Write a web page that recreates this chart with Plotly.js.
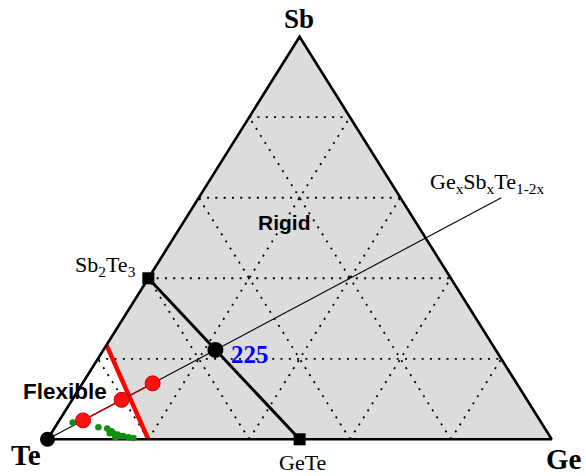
<!DOCTYPE html>
<html><head><meta charset="utf-8">
<script src="https://cdn.plot.ly/plotly-3.0.1.min.js"></script>
<style>html,body{margin:0;padding:0;background:#fff;}#chart{width:586px;height:476px;}</style>
</head><body><div id="chart"></div>
<script>
// Compositions given as fractions of Ge and Sb (Te = 1 - Ge - Sb)
const vertexNames = ['Te', 'Ge', 'Sb'];
const vertexGe = [0, 1, 0];
const vertexSb = [0, 0, 1];
const gridLevels = [0.2, 0.4, 0.6, 0.8];
// rigidity threshold (red line) end points
const thresholdGe = [0.2, 0.0];
const thresholdSb = [0.0, 0.234];
// pseudo-binary tie line Sb2Te3 - GeTe
const tieNames = ['Sb<sub>2</sub>Te<sub>3</sub>', 'GeTe'];
const tieGe = [0.0, 0.5];
const tieSb = [0.4, 0.0];
// GexSbxTe1-2x line (Ge = Sb = x)
const gstLineName = 'Ge<sub>x</sub>Sb<sub>x</sub>Te<sub>1-2x</sub>';
const gstLineX = [0.0, 0.6];
const point225Name = '225';
const point225X = [0.222];
// red samples on the GexSbxTe1-2x line
const redX = [0.047, 0.098, 0.139];
// green samples
const greenGe = [0.029, 0.086, 0.105, 0.117, 0.116, 0.123, 0.133, 0.132, 0.139, 0.146, 0.158, 0.169];
const greenSb = [0.042, 0.030, 0.027, 0.020, 0.015, 0.015, 0.012, 0.005, 0.008, 0.008, 0.005, 0.003];
const regionNames = ['Rigid', 'Flexible'];

// ternary -> cartesian (x along Te->Ge base, y = Sb fraction)
function tx(ge, sb) { return ge + sb / 2; }
function mapX(ge, sb) { return ge.map((g, i) => tx(g, sb[i])); }

// pixel helpers for annotation placement
const X0 = 47.5, XW = 504.2, Y0 = 439.3, YH = 402.6;
const xr = [-X0 / XW, (586 - X0) / XW];
const yr = [(Y0 - 476) / YH, Y0 / YH];
function px(x) { return (x - X0) / XW; }
function py(y) { return (Y0 - y) / YH; }

const traces = [];
// grey (rigid) region
const greyGe = [thresholdGe[0], vertexGe[1], vertexGe[2], thresholdGe[1], thresholdGe[0]];
const greySb = [thresholdSb[0], vertexSb[1], vertexSb[2], thresholdSb[1], thresholdSb[0]];
traces.push({x: mapX(greyGe, greySb), y: greySb, mode: 'lines', fill: 'toself',
  fillcolor: '#dcdcdc', line: {width: 0}, hoverinfo: 'skip'});

// dotted grid
const gx = [], gy = [];
gridLevels.forEach(g => {
  gx.push(tx(0, g), tx(1 - g, g), null); gy.push(g, g, null);        // constant Sb
  gx.push(tx(g, 0), tx(g, 1 - g), null); gy.push(0, 1 - g, null);    // constant Ge
  gx.push(tx(g, 0), tx(0, g), null); gy.push(0, g, null);            // constant Te
});
traces.push({x: gx, y: gy, mode: 'lines', line: {color: '#000', width: 1.8, dash: '2px,6.3px'}, hoverinfo: 'skip'});

// threshold line
traces.push({x: mapX(thresholdGe, thresholdSb), y: thresholdSb, mode: 'lines',
  line: {color: '#ff0000', width: 4.5}, hoverinfo: 'skip'});

// triangle outline
const triGe = [vertexGe[0], vertexGe[1], vertexGe[2], vertexGe[0]];
const triSb = [vertexSb[0], vertexSb[1], vertexSb[2], vertexSb[0]];
traces.push({x: mapX(triGe, triSb), y: triSb, mode: 'lines', line: {color: '#000', width: 2.6}, hoverinfo: 'skip'});

// GexSbxTe1-2x line
traces.push({x: gstLineX.map(v => tx(v, v)), y: gstLineX, mode: 'lines', line: {color: '#000', width: 1.1}, hoverinfo: 'skip'});

// tie line
traces.push({x: mapX(tieGe, tieSb), y: tieSb, mode: 'lines+markers', line: {color: '#000', width: 3},
  marker: {symbol: 'square', size: 12, color: '#000'}, hoverinfo: 'skip'});

// green points
traces.push({x: mapX(greenGe, greenSb), y: greenSb, mode: 'markers',
  marker: {size: 6.5, color: '#109010'}, hoverinfo: 'skip'});

// red points
traces.push({x: redX.map(v => tx(v, v)), y: redX, mode: 'lines+markers', line: {color: '#c00000', width: 1.5},
  marker: {size: 15, color: '#ff1010', line: {color: '#c00000', width: 1}}, hoverinfo: 'skip'});

// 225 point and Te vertex
traces.push({x: point225X.map(v => tx(v, v)), y: point225X, mode: 'markers',
  marker: {size: 16, color: '#000'}, hoverinfo: 'skip'});
traces.push({x: [tx(vertexGe[0], vertexSb[0])], y: [vertexSb[0]], mode: 'markers',
  marker: {size: 15, color: '#000'}, hoverinfo: 'skip'});

const serif = 'Liberation Serif, Times New Roman, serif';
const sans = 'Liberation Sans, Arial, sans-serif';
function ann(text, x, y, size, opts) {
  return Object.assign({text: text, x: px(x), y: py(y), xref: 'x', yref: 'y', showarrow: false,
    xanchor: 'center', yanchor: 'middle', font: {family: serif, size: size, color: '#000'}}, opts || {});
}
const annotations = [
  ann('<b>' + vertexNames[2] + '</b>', 299, 19, 27),
  ann('<b>' + vertexNames[0] + '</b>', 26, 455, 29),
  ann('<b>' + vertexNames[1] + '</b>', 564, 459, 29),
  ann(tieNames[1], 302, 462, 22),
  ann(tieNames[0], 138, 266, 22, {xanchor: 'right'}),
  ann(gstLineName, 428, 183, 22, {xanchor: 'left'}),
  ann('<b>' + regionNames[0] + '</b>', 284, 222, 21, {font: {family: sans, size: 21, color: '#000'}}),
  ann('<b>' + regionNames[1] + '</b>', 65, 391, 22.5, {font: {family: sans, size: 22.5, color: '#000'}}),
  ann('<b>' + point225Name + '</b>', 229, 354, 25, {xanchor: 'left', font: {family: serif, size: 25, color: '#0000ff'}})
];

const layout = {
  width: 586, height: 476, margin: {l: 0, r: 0, t: 0, b: 0},
  paper_bgcolor: '#fff', plot_bgcolor: '#fff', showlegend: false,
  xaxis: {range: xr, visible: false, fixedrange: true},
  yaxis: {range: yr, visible: false, fixedrange: true},
  annotations: annotations
};
Plotly.newPlot('chart', traces, layout, {staticPlot: true, displayModeBar: false});
</script></body></html>
